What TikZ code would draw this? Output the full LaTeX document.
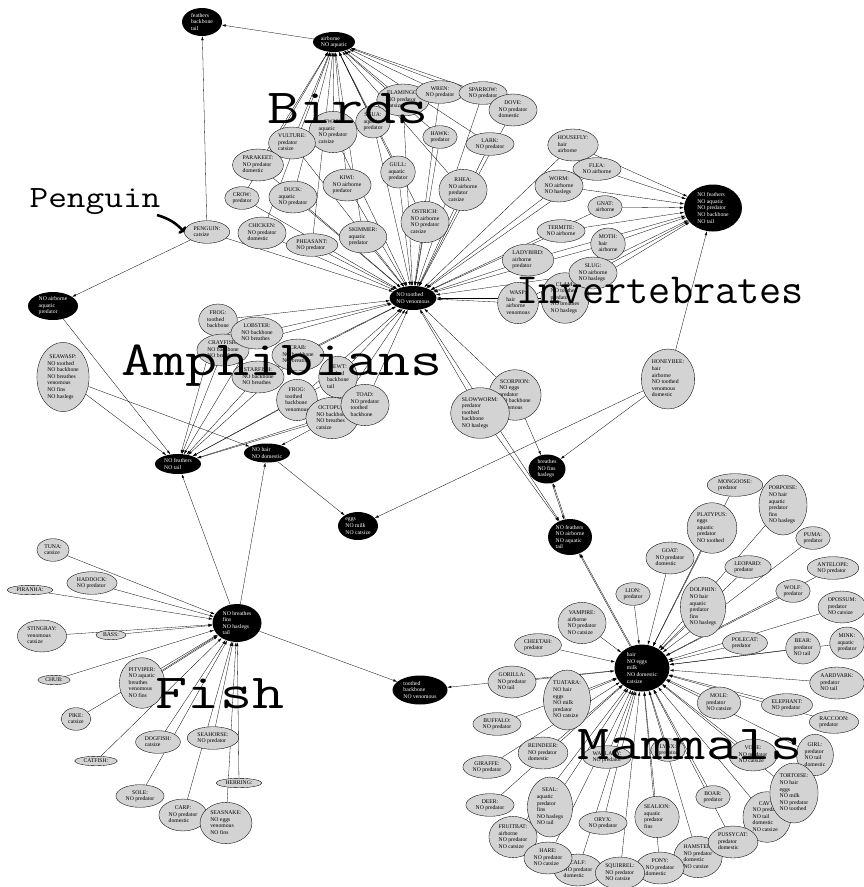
\documentclass[tikz,border=0pt]{standalone}
\usepackage{fontspec}
\setmainfont{Liberation Serif}
\usetikzlibrary{shapes.geometric, arrows.meta, backgrounds}
\definecolor{nodegray}{RGB}{211,211,211}
\newcommand{\lblfont}{\fontsize{5.7}{6.6}\selectfont}
\newcommand{\critter}[2]{\begin{tabular}{@{}l@{}}\multicolumn{1}{@{}c@{}}{#1}\\#2\end{tabular}}

\begin{document}
\begin{tikzpicture}[x=1pt, y=-1pt,
    animal/.style={ellipse, draw, line width=0.35pt, fill=nodegray,
        inner xsep=2.7pt, inner ysep=1.4pt, font=\lblfont},
    concept/.style={ellipse, fill=black, text=white, align=left,
        inner sep=0pt, font=\lblfont},
    link/.style={-{Latex[length=4pt,width=2.4pt]}, line width=0.3pt},
    group/.style={anchor=base, inner sep=0pt}
]
\useasboundingbox (0,0) rectangle (863,887);

% concepts
\node[concept, minimum width=40pt, minimum height=28pt] (cFeath) at (202,22) {feathers\\backbone\\tail};
\node[concept, minimum width=42pt, minimum height=20pt] (cAir) at (334,42) {airborne\\NO aquatic};
\node[concept, minimum width=44pt, minimum height=24pt] (cNoTooth) at (413,298) {NO toothed\\NO venomous};
\node[concept, minimum width=58pt, minimum height=47pt] (cInv) at (713,208) {NO feathers\\NO aquatic\\NO predator\\NO backbone\\NO tail};
\node[concept, minimum width=50pt, minimum height=28pt] (cAquaPred) at (53,306) {NO airborne\\aquatic\\predator};
\node[concept, minimum width=46pt, minimum height=20pt] (cNoFeathTail) at (178,464) {NO feathers\\NO tail};
\node[concept, minimum width=46pt, minimum height=19pt] (cNoHair) at (267,453) {NO hair\\NO domestic};
\node[concept, minimum width=40pt, minimum height=28pt] (cEggs) at (358,526) {eggs\\NO milk\\NO catsize};
\node[concept, minimum width=37pt, minimum height=29pt] (cBreath) at (547,469) {breathes\\NO fins\\haslegs};
\node[concept, minimum width=44pt, minimum height=36pt] (cLand) at (570,537) {NO feathers\\NO airborne\\NO aquatic\\tail};
\node[concept, minimum width=49pt, minimum height=38pt] (cFish) at (237,623) {NO breathes\\fins\\NO haslegs\\tail};
\node[concept, minimum width=55pt, minimum height=29pt] (cTooth) at (420,690) {toothed\\backbone\\NO venomous};
\node[concept, minimum width=55pt, minimum height=47pt] (cMammal) at (642,668) {hair\\NO eggs\\milk\\NO domestic\\catsize};

% birds
\node[animal] (swan) at (333,132) {\critter{SWAN:}{aquatic\\NO predator\\catsize}};
\node[animal] (flamingo) at (403,100) {\critter{FLAMINGO:}{NO predator\\catsize}};
\node[animal] (skua) at (373,122) {\critter{SKUA:}{aquatic\\predator}};
\node[animal] (vulture) at (292,143) {\critter{VULTURE:}{predator\\catsize}};
\node[animal] (wren) at (440,92) {\critter{WREN:}{NO predator}};
\node[animal] (sparrow) at (483,93) {\critter{SPARROW:}{NO predator}};
\node[animal] (dove) at (513,110) {\critter{DOVE:}{NO predator\\domestic}};
\node[animal] (hawk) at (440,137) {\critter{HAWK:}{predator}};
\node[animal] (lark) at (490,144) {\critter{LARK:}{NO predator}};
\node[animal] (parakeet) at (258,165) {\critter{PARAKEET:}{NO predator\\domestic}};
\node[animal] (gull) at (398,172) {\critter{GULL:}{aquatic\\predator}};
\node[animal] (kiwi) at (347,185) {\critter{KIWI:}{NO airborne\\predator}};
\node[animal] (rhea) at (463,190) {\critter{RHEA:}{NO airborne\\predator\\catsize}};
\node[animal] (crow) at (242,198) {\critter{CROW:}{predator}};
\node[animal] (duck) at (293,197) {\critter{DUCK:}{aquatic\\NO predator}};
\node[animal] (ostrich) at (425,222) {\critter{OSTRICH:}{NO airborne\\NO predator\\catsize}};
\node[animal] (penguin) at (207,232) {\critter{PENGUIN:}{catsize}};
\node[animal] (chicken) at (262,233) {\critter{CHICKEN:}{NO predator\\domestic}};
\node[animal] (pheasant) at (312,245) {\critter{PHEASANT:}{NO predator}};
\node[animal] (skimmer) at (363,237) {\critter{SKIMMER:}{aquatic\\predator}};

% invertebrates
\node[animal] (housefly) at (573,145) {\critter{HOUSEFLY:}{hair\\airborne}};
\node[animal] (flea) at (597,169) {\critter{FLEA:}{NO airborne}};
\node[animal] (worm) at (559,186) {\critter{WORM:}{NO airborne\\NO haslegs}};
\node[animal] (gnat) at (605,207) {\critter{GNAT:}{airborne}};
\node[animal] (termite) at (561,231) {\critter{TERMITE:}{NO airborne}};
\node[animal] (moth) at (608,244) {\critter{MOTH:}{hair\\airborne}};
\node[animal] (ladybird) at (528,260) {\critter{LADYBIRD:}{airborne\\predator}};
\node[animal] (clam) at (565,298) {\critter{CLAM:}{NO toothed\\predator\\NO breathes\\NO haslegs}};
\node[animal] (slug) at (593,273) {\critter{SLUG:}{NO airborne\\NO haslegs}};
\node[animal] (wasp) at (518,303) {\critter{WASP:}{hair\\airborne\\venomous}};
\node[animal] (honeybee) at (668,379) {\critter{HONEYBEE:}{hair\\airborne\\NO toothed\\venomous\\domestic}};

% amphibians and sea creatures
\node[animal] (frog) at (218,320) {\critter{FROG:}{toothed\\backbone}};
\node[animal] (crayfish) at (223,350) {\critter{CRAYFISH:}{NO backbone\\NO breathes}};
\node[animal] (lobster) at (257,333) {\critter{LOBSTER:}{NO backbone\\NO breathes}};
\node[animal] (crab) at (298,355) {\critter{CRAB:}{NO backbone\\NO breathes}};
\node[animal] (starfish) at (258,377) {\critter{STARFISH:}{NO backbone\\NO breathes}};
\node[animal] (newt) at (338,377) {\critter{NEWT:}{toothed\\backbone\\tail}};
\node[animal] (frogv) at (297,400) {\critter{FROG:}{toothed\\backbone\\venomous}};
\node[animal] (octopus) at (332,418) {\critter{OCTOPUS:}{NO backbone\\NO breathes\\catsize}};
\node[animal] (toad) at (365,405) {\critter{TOAD:}{NO predator\\toothed\\backbone}};
\node[animal] (seawasp) at (63,377) {\critter{SEAWASP:}{NO toothed\\NO backbone\\NO breathes\\venomous\\NO fins\\NO haslegs}};
\node[animal] (scorpion) at (515,395) {\critter{SCORPION:}{NO eggs\\predator\\NO backbone\\venomous}};
\node[animal] (slowworm) at (480,413) {\critter{SLOWWORM:}{predator\\toothed\\backbone\\NO haslegs}};

% fish
\node[animal] (tuna) at (53,550) {\critter{TUNA:}{catsize}};
\node[animal] (haddock) at (92,583) {\critter{HADDOCK:}{NO predator}};
\node[animal] (piranha) at (30,590) {PIRANHA:};
\node[animal] (stingray) at (42,636) {\critter{STINGRAY:}{venomous\\catsize}};
\node[animal] (bass) at (111,635) {BASS:};
\node[animal] (chub) at (54,680) {CHUB:};
\node[animal] (pitviper) at (142,683) {\critter{PITVIPER:}{NO aquatic\\breathes\\venomous\\NO fins}};
\node[animal] (pike) at (76,719) {\critter{PIKE:}{catsize}};
\node[animal] (dogfish) at (158,742) {\critter{DOGFISH:}{catsize}};
\node[animal] (seahorse) at (213,738) {\critter{SEAHORSE:}{NO predator}};
\node[animal] (catfish) at (96,761) {CATFISH:};
\node[animal] (herring) at (239,783) {HERRING:};
\node[animal] (sole) at (140,796) {\critter{SOLE:}{NO predator}};
\node[animal] (carp) at (183,815) {\critter{CARP:}{NO predator\\domestic}};
\node[animal] (seasnake) at (226,823) {\critter{SEASNAKE:}{NO eggs\\venomous\\NO fins}};

% mammals
\node[animal] (mongoose) at (735,485) {\critter{MONGOOSE:}{predator}};
\node[animal] (platypus) at (712,528) {\critter{PLATYPUS:}{eggs\\aquatic\\predator\\NO toothed}};
\node[animal] (porpoise) at (783,505) {\critter{PORPOISE:}{NO hair\\aquatic\\predator\\fins\\NO haslegs}};
\node[animal] (puma) at (813,538) {\critter{PUMA:}{predator}};
\node[animal] (goat) at (670,558) {\critter{GOAT:}{NO predator\\domestic}};
\node[animal] (leopard) at (748,567) {\critter{LEOPARD:}{predator}};
\node[animal] (antelope) at (833,568) {\critter{ANTELOPE:}{NO predator}};
\node[animal] (wolf) at (793,591) {\critter{WOLF:}{predator}};
\node[animal] (lion) at (633,594) {\critter{LION:}{predator}};
\node[animal] (dolphin) at (703,607) {\critter{DOLPHIN:}{NO hair\\aquatic\\predator\\fins\\NO haslegs}};
\node[animal] (opossum) at (842,607) {\critter{OPOSSUM:}{predator\\NO catsize}};
\node[animal] (vampire) at (582,623) {\critter{VAMPIRE:}{airborne\\NO predator\\NO catsize}};
\node[animal] (polecat) at (745,643) {\critter{POLECAT:}{predator}};
\node[animal] (bear) at (803,648) {\critter{BEAR:}{predator\\NO tail}};
\node[animal] (mink) at (847,643) {\critter{MINK:}{aquatic\\predator}};
\node[animal] (cheetah) at (538,645) {\critter{CHEETAH:}{predator}};
\node[animal] (gorilla) at (512,682) {\critter{GORILLA:}{NO predator\\NO tail}};
\node[animal] (aardvark) at (837,683) {\critter{AARDVARK:}{predator\\NO tail}};
\node[animal] (tuatara) at (567,700) {\critter{TUATARA:}{NO hair\\eggs\\NO milk\\predator\\NO catsize}};
\node[animal] (mole) at (719,703) {\critter{MOLE:}{predator\\NO catsize}};
\node[animal] (elephant) at (787,705) {\critter{ELEPHANT:}{NO predator}};
\node[animal] (raccoon) at (834,722) {\critter{RACCOON:}{predator}};
\node[animal] (buffalo) at (497,724) {\critter{BUFFALO:}{NO predator}};
\node[animal] (reindeer) at (543,753) {\critter{REINDEER:}{NO predator\\domestic}};
\node[animal] (wallaby) at (607,757) {\critter{WALLABY:}{NO predator}};
\node[animal] (giraffe) at (487,767) {\critter{GIRAFFE:}{NO predator}};
\node[animal] (lynx) at (668,750) {\critter{LYNX:}{predator}};
\node[animal] (girl) at (815,755) {\critter{GIRL:}{predator\\NO tail\\domestic}};
\node[animal] (vole) at (753,755) {\critter{VOLE:}{NO predator\\NO catsize}};
\node[animal] (boar) at (713,797) {\critter{BOAR:}{predator}};
\node[animal] (cavy) at (767,817) {\critter{CAVY:}{NO predator\\NO tail\\domestic\\NO catsize}};
\node[animal] (tortoise) at (794,793) {\critter{TORTOISE:}{NO hair\\eggs\\NO milk\\NO predator\\NO toothed}};
\node[animal] (deer) at (490,805) {\critter{DEER:}{NO predator}};
\node[animal] (fruitbat) at (513,837) {\critter{FRUITBAT:}{airborne\\NO predator\\NO catsize}};
\node[animal] (seal) at (550,807) {\critter{SEAL:}{aquatic\\predator\\fins\\NO haslegs\\NO tail}};
\node[animal] (oryx) at (603,823) {\critter{ORYX:}{NO predator}};
\node[animal] (sealion) at (657,817) {\critter{SEALION:}{aquatic\\predator\\fins}};
\node[animal] (hamster) at (698,857) {\critter{HAMSTER:}{NO predator\\domestic\\NO catsize}};
\node[animal] (pussycat) at (733,842) {\critter{PUSSYCAT:}{predator\\domestic}};
\node[animal] (pony) at (660,868) {\critter{PONY:}{NO predator\\domestic}};
\node[animal] (calf) at (578,870) {\critter{CALF:}{NO predator\\domestic}};
\node[animal] (hare) at (548,858) {\critter{HARE:}{NO predator\\NO catsize}};
\node[animal] (squirrel) at (620,873) {\critter{SQUIRREL:}{NO predator\\NO catsize}};

% connectors behind the ellipses
\begin{scope}[on background layer]
    \foreach \b in {flamingo,wren,swan,skua,hawk,vulture,parakeet,kiwi,gull,rhea,crow,duck,ostrich,chicken,pheasant,skimmer,sparrow,dove,lark}
        \draw[link] (\b) -- (cAir);
    \foreach \b in {flamingo,wren,swan,skua,hawk,vulture,parakeet,kiwi,gull,rhea,crow,duck,ostrich,chicken,pheasant,skimmer,sparrow,dove,lark,penguin}
        \draw[link] (\b) -- (cNoTooth);
    \draw[link] (cAir) -- (cFeath);
    \draw[link] (penguin) -- (cFeath);
    \draw[link] (penguin) -- (cAquaPred);

    \foreach \i in {housefly,flea,worm,gnat,termite,moth,ladybird,slug,clam,wasp} {
        \draw[link] (\i) -- (cInv);
        \draw[link] (\i) -- (cNoTooth);
    }
    \draw[link] (honeybee) -- (cInv);
    \draw[link] (honeybee) -- (cEggs);
    \draw[link] (honeybee) -- (cBreath);

    \foreach \a in {frog,lobster,crayfish,crab,starfish,frogv,newt,octopus,toad} {
        \draw[link] (\a) -- (cNoFeathTail);
        \draw[link] (\a) -- (cNoTooth);
    }
    \draw[link] (octopus) -- (cNoHair);
    \draw[link] (seawasp) -- (cNoFeathTail);
    \draw[link] (seawasp) -- (cNoHair);
    \draw[link] (cAquaPred) -- (cNoFeathTail);
    \draw[link] (cNoHair) -- (cEggs);

    \draw[link] (scorpion) -- (cNoTooth);
    \draw[link] (scorpion) -- (cBreath);
    \draw[link] (slowworm) -- (cNoTooth);
    \draw[link] (slowworm) -- (cLand);
    \draw[link] (cNoTooth) -- (cLand);
    \draw[link] (cBreath) -- (cLand);
    \draw[link, transform canvas={xshift=1.2pt}] (cLand) -- (cBreath);

    \foreach \f in {tuna,haddock,piranha,stingray,bass,chub,pitviper,pike,dogfish,seahorse,catfish,herring,sole,carp,seasnake}
        \draw[link] (\f) -- (cFish);
    \draw[link, transform canvas={yshift=-1.2pt}] (pitviper) -- (cFish);
    \draw[link] (cFish) -- (cNoFeathTail);
    \draw[link] (cFish) -- (cNoHair);
    \draw[link] (cFish) -- (cTooth);

    \foreach \m in {goat,lion,vampire,cheetah,gorilla,tuatara,buffalo,platypus,mongoose,porpoise,puma,leopard,antelope,wolf,dolphin,opossum,polecat,bear,mink,aardvark,mole,elephant,raccoon,girl,reindeer,wallaby,giraffe,lynx,deer,seal,oryx,sealion,fruitbat,hare,calf,squirrel,pony,vole,tortoise,boar,cavy,pussycat,hamster}
        \draw[link] (\m) -- (cMammal);
    \draw[link] (cMammal) -- (cLand);
    \draw[link, transform canvas={xshift=1.2pt}] (cMammal) -- (cLand);
    \draw[link] (cMammal) -- (cTooth);
\end{scope}

% group labels
\node[group, font=\ttfamily\fontsize{49}{49}\selectfont] (lBirds) at (348,123) {\scalebox{1.27}[1]{Birds}};
\node[group, font=\ttfamily\fontsize{49}{49}\selectfont] (lAmph) at (282,375) {\scalebox{1.27}[1]{Amphibians}};
\node[group, font=\ttfamily\fontsize{49}{49}\selectfont] (lFish) at (220,708) {\scalebox{1.27}[1]{Fish}};
\node[group, font=\ttfamily\fontsize{49}{49}\selectfont] (lMammals) at (690,759) {\scalebox{1.27}[1]{Mammals}};
\node[group, font=\ttfamily\fontsize{43}{43}\selectfont] (lInv) at (660,303) {Invertebrates};
\node[group, font=\ttfamily\fontsize{31}{31}\selectfont] (lPenguin) at (95,207) {\scalebox{1.17}[1]{Penguin}};
\coordinate (pgTail) at (157,215);
\draw[line width=2.6pt, -{To[length=4pt,width=10pt]}] (pgTail) to[bend left=15] (penguin.west);
\end{tikzpicture}
\end{document}
